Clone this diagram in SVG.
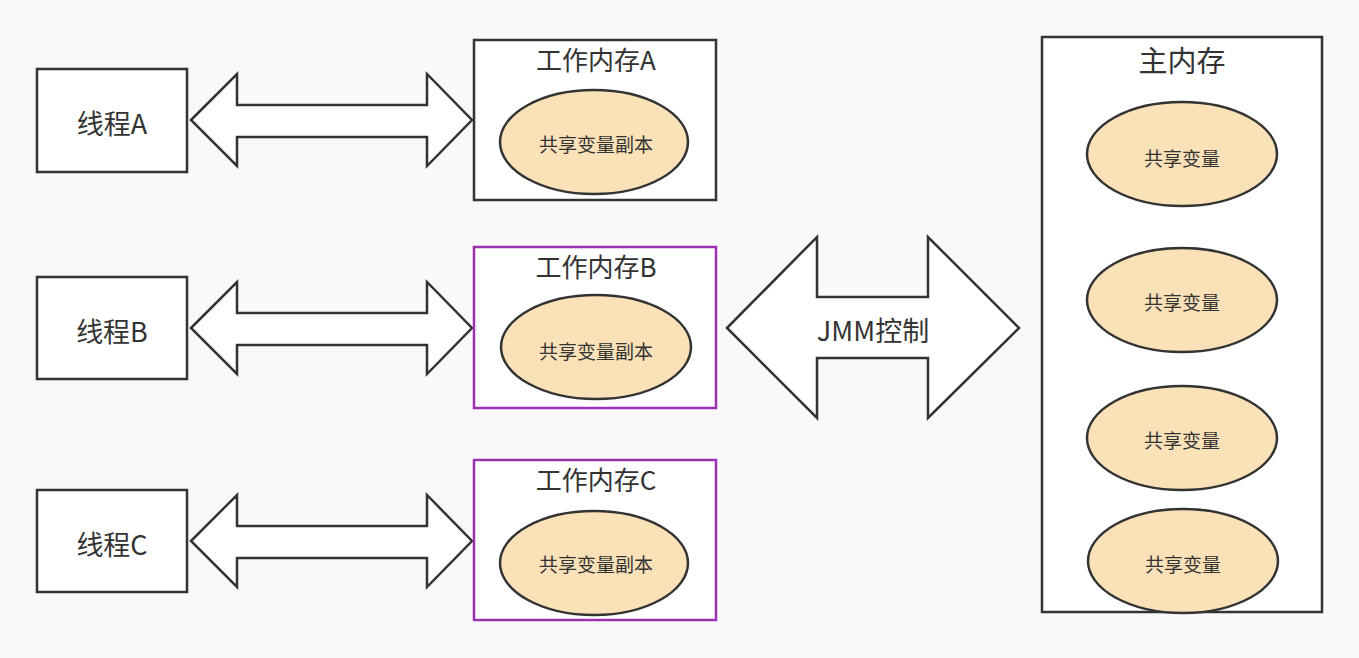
<svg xmlns="http://www.w3.org/2000/svg" width="1359" height="658" viewBox="0 0 1359 658">
<defs>
<style>
.box{fill:#ffffff;stroke:#333333;stroke-width:2.5}
.pbox{fill:#ffffff;stroke:#9c30b0;stroke-width:2.5}
.ell{fill:#fae1b8;stroke:#333333;stroke-width:2.5}
.arr{fill:#ffffff;stroke:#333333;stroke-width:2.5;stroke-linejoin:miter}
.t{font-family:"Noto Sans CJK SC","Noto Sans",sans-serif;fill:#333333;text-anchor:middle;dominant-baseline:central}
.big{font-size:26px}
.small{font-size:19px}
</style>
</defs>
<rect width="1359" height="658" fill="#f9f9f9"/>
<g id="connectors">
<polygon class="arr" points="191,120 237,74 237,105 427,105 427,74 472,120 427,166 427,137 237,137 237,166"/>
<polygon class="arr" points="191,328 237,282 237,313 427,313 427,282 472,328 427,374 427,345 237,345 237,374"/>
<polygon class="arr" points="191,541 237,495 237,526 427,526 427,495 472,541 427,587 427,558 237,558 237,587"/>
<g id="jmm">
<polygon class="arr" points="727,328 817,237 817,297 928,297 928,237 1019,328 928,418 928,358 817,358 817,418"/>
<text class="t" style="font-size:27px" x="873" y="329">JMM控制</text>
</g>
</g>
<g id="threadA"><rect class="box" x="37" y="69" width="150" height="103"/><text class="t" style="font-size:27px" x="112" y="122">线程A</text></g>
<g id="threadB"><rect class="box" x="37" y="277" width="150" height="102"/><text class="t" style="font-size:27px" x="112" y="330">线程B</text></g>
<g id="threadC"><rect class="box" x="37" y="490" width="150" height="102"/><text class="t" style="font-size:27px" x="112" y="543">线程C</text></g>
<g id="workA"><rect class="box" x="474" y="40" width="242" height="160"/><text class="t big" x="596" y="58">工作内存A</text><ellipse class="ell" cx="594" cy="142" rx="94" ry="52"/><text class="t small" x="596" y="143">共享变量副本</text></g>
<g id="workB"><rect class="pbox" x="474" y="247" width="242" height="161"/><text class="t big" x="596" y="265">工作内存B</text><ellipse class="ell" cx="596" cy="347" rx="95" ry="52"/><text class="t small" x="596" y="350">共享变量副本</text></g>
<g id="workC"><rect class="pbox" x="474" y="460" width="242" height="160"/><text class="t big" x="596" y="478">工作内存C</text><ellipse class="ell" cx="594" cy="563" rx="94" ry="52"/><text class="t small" x="596" y="563">共享变量副本</text></g>
<g id="mainMem"><rect class="box" x="1042" y="37" width="280" height="575"/><text class="t" style="font-size:29px" x="1182" y="59">主内存</text>
<ellipse class="ell" cx="1182" cy="154" rx="95" ry="52"/><text class="t small" x="1182" y="157">共享变量</text>
<ellipse class="ell" cx="1182" cy="300" rx="95" ry="52"/><text class="t small" x="1182" y="301">共享变量</text>
<ellipse class="ell" cx="1182" cy="438" rx="95" ry="52"/><text class="t small" x="1182" y="439">共享变量</text>
<ellipse class="ell" cx="1183" cy="561" rx="95" ry="52"/><text class="t small" x="1183" y="563">共享变量</text>
</g>
</svg>
